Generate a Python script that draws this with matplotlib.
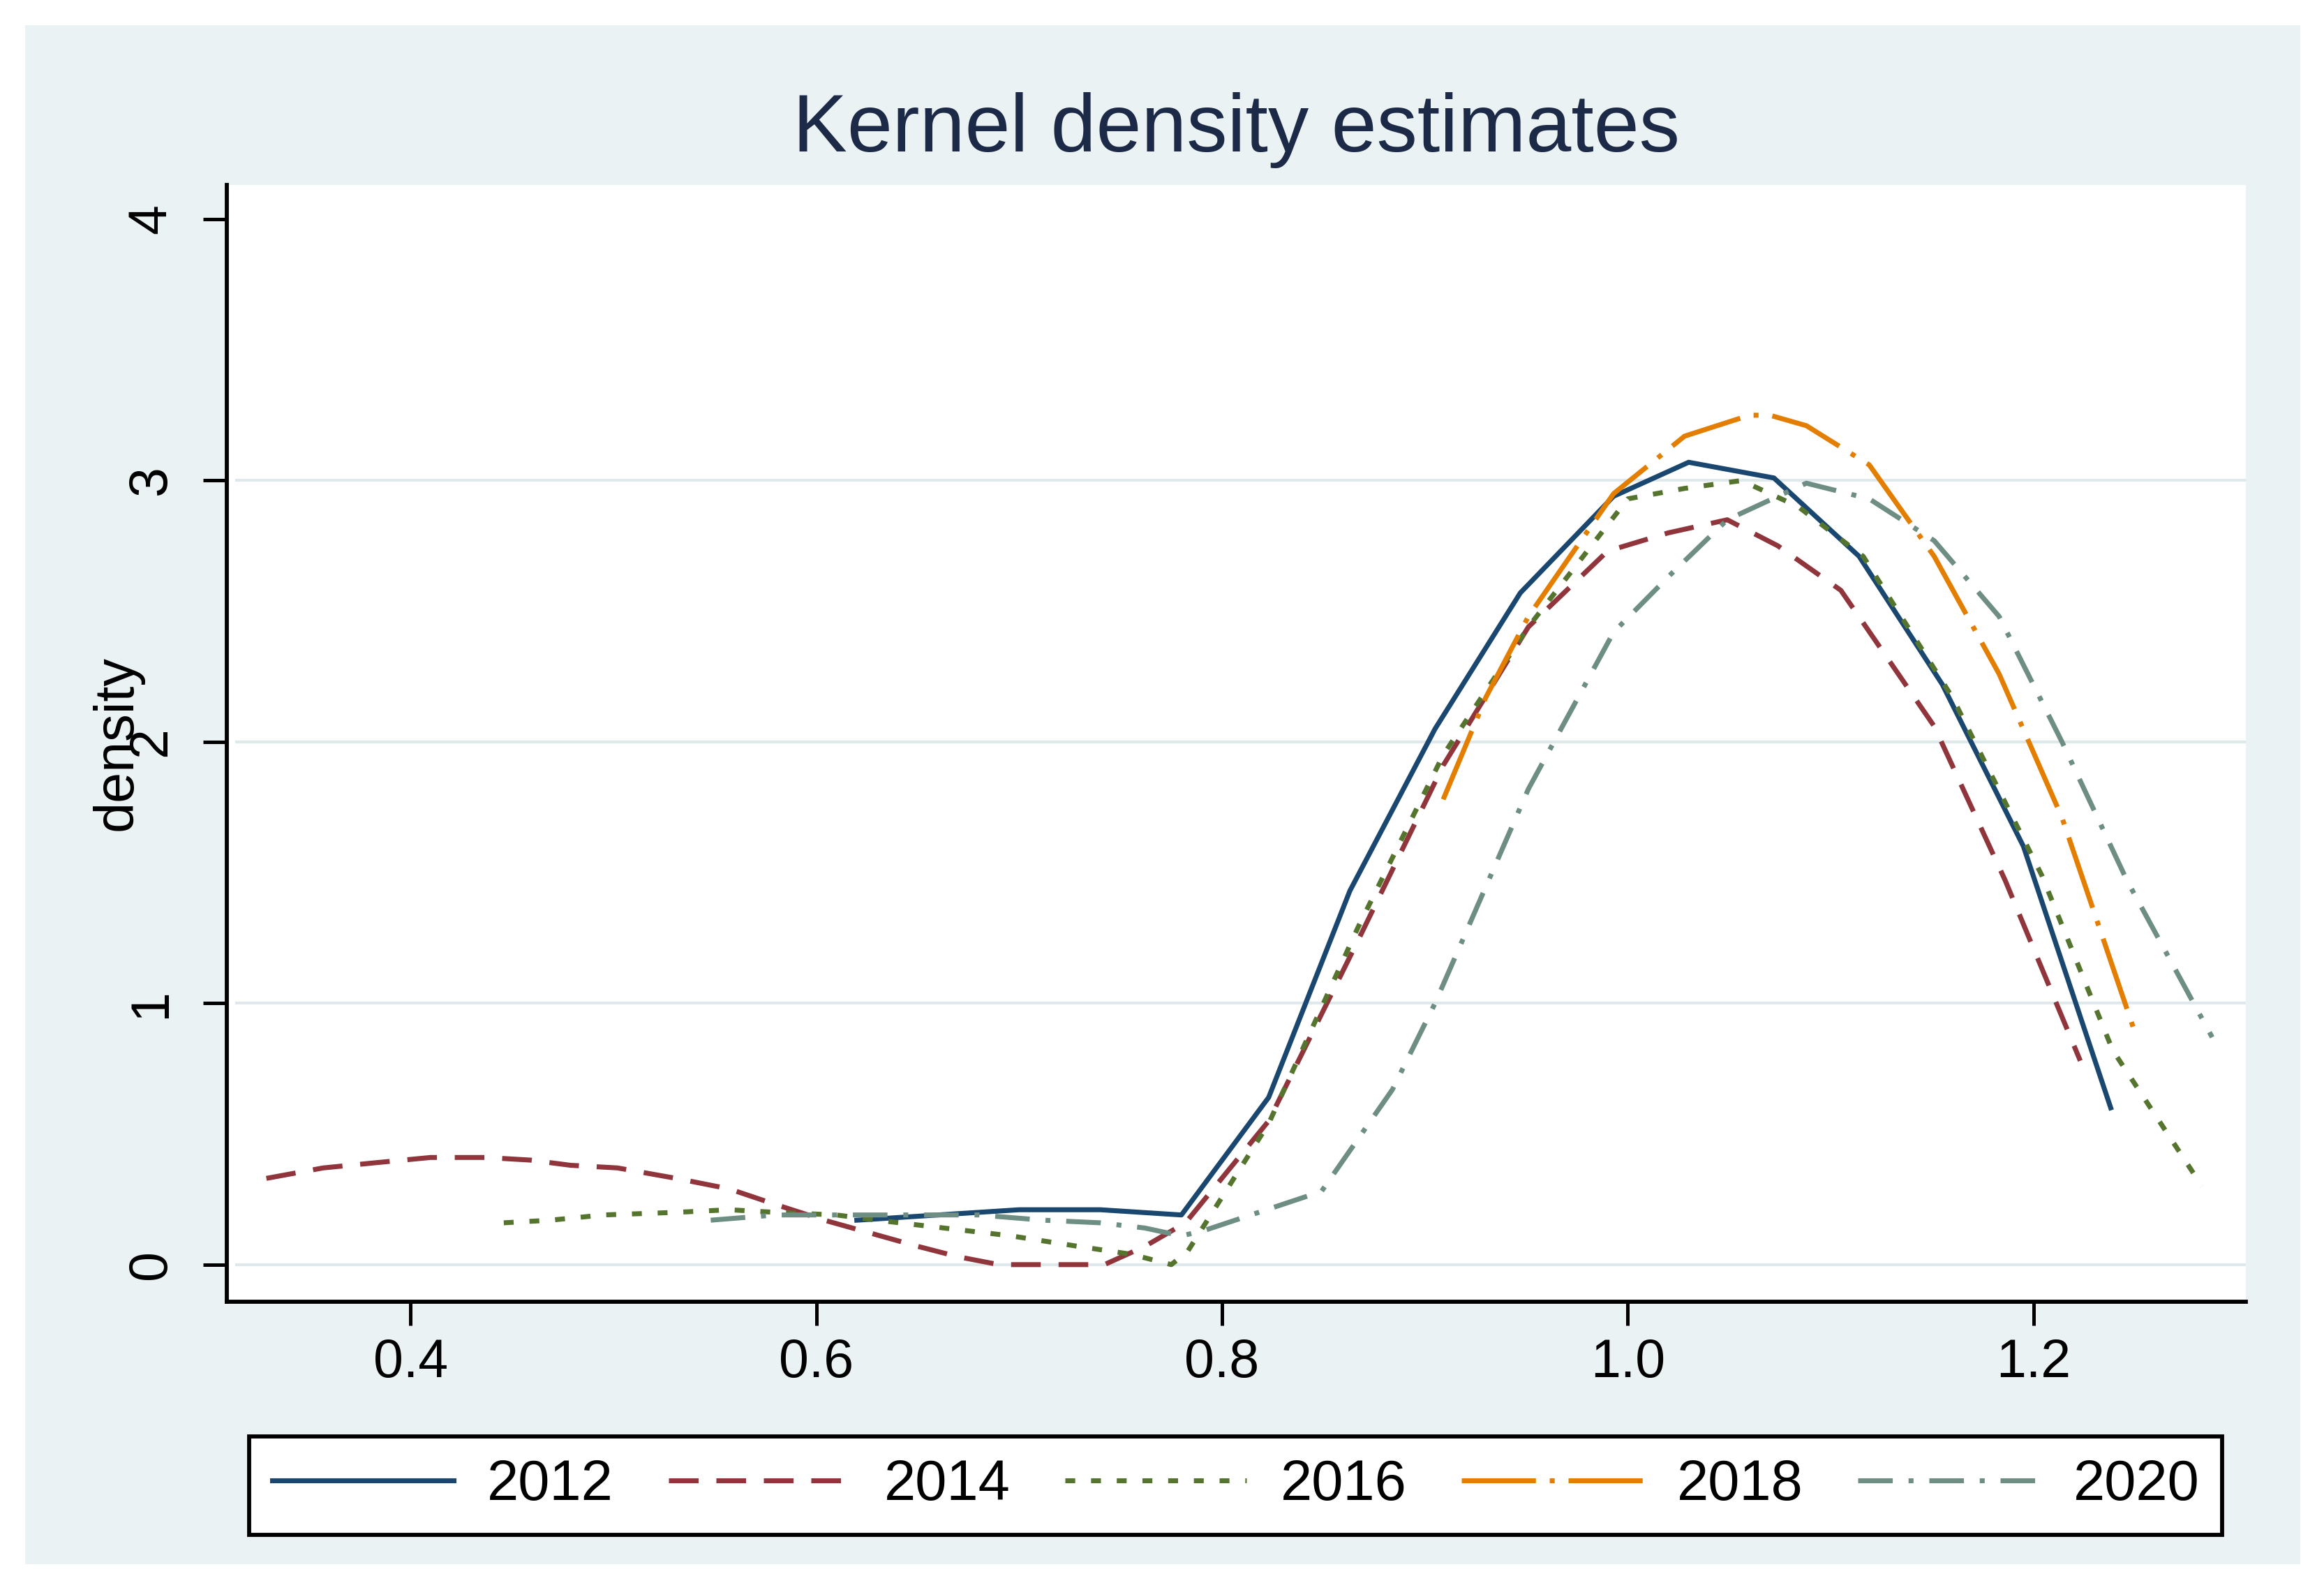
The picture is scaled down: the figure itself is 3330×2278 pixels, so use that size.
import matplotlib
matplotlib.use("Agg")
import matplotlib.pyplot as plt
from matplotlib.patches import Rectangle

plt.rcParams['font.family'] = ['Liberation Sans', 'DejaVu Sans']

# ---- data ----
years = ["2012", "2014", "2016", "2018", "2020"]

x2012 = [0.62, 0.66, 0.70, 0.74, 0.78, 0.823, 0.863, 0.905, 0.947, 0.993, 1.030,
         1.072, 1.114, 1.155, 1.195, 1.238]
y2012 = [0.17, 0.19, 0.21, 0.21, 0.19, 0.64, 1.43, 2.05, 2.57, 2.94, 3.07,
         3.01, 2.71, 2.22, 1.60, 0.60]

x2014 = [0.329, 0.357, 0.383, 0.410, 0.437, 0.459, 0.479, 0.502, 0.531, 0.557,
         0.580, 0.604, 0.627, 0.650, 0.670, 0.690, 0.742, 0.762, 0.782, 0.823,
         0.867, 0.909, 0.951, 0.990, 1.020, 1.049, 1.074, 1.105, 1.151, 1.186, 1.223]
y2014 = [0.33, 0.37, 0.39, 0.41, 0.41, 0.40, 0.38, 0.37, 0.33, 0.29,
         0.23, 0.17, 0.12, 0.07, 0.03, 0.00, 0.00, 0.07, 0.16, 0.55,
         1.24, 1.91, 2.44, 2.73, 2.80, 2.85, 2.75, 2.58, 2.06, 1.47, 0.78]

x2016 = [0.446, 0.469, 0.495, 0.531, 0.557, 0.580, 0.610, 0.630, 0.663, 0.696,
         0.729, 0.755, 0.775, 0.783, 0.823, 0.867, 0.909, 0.951, 1.000, 1.028,
         1.056, 1.084, 1.116, 1.160, 1.204, 1.239, 1.283]
y2016 = [0.16, 0.17, 0.19, 0.20, 0.21, 0.20, 0.19, 0.17, 0.14, 0.11,
         0.07, 0.04, 0.00, 0.05, 0.54, 1.29, 1.95, 2.44, 2.93, 2.97,
         3.00, 2.90, 2.71, 2.17, 1.49, 0.82, 0.30]

x2018 = [0.909, 0.930, 0.951, 0.993, 1.028, 1.060, 1.070, 1.088, 1.119, 1.151,
         1.183, 1.214, 1.249]
y2018 = [1.78, 2.17, 2.48, 2.95, 3.17, 3.25, 3.25, 3.21, 3.06, 2.71,
         2.26, 1.71, 0.91]

x2020 = [0.548, 0.580, 0.630, 0.680, 0.712, 0.740, 0.762, 0.780, 0.791, 0.849,
         0.884, 0.905, 0.951, 0.993, 1.021, 1.049, 1.088, 1.119, 1.151, 1.183,
         1.214, 1.246, 1.288]
y2020 = [0.17, 0.19, 0.19, 0.19, 0.17, 0.16, 0.14, 0.11, 0.13, 0.28,
         0.67, 1.00, 1.82, 2.42, 2.64, 2.85, 2.99, 2.93, 2.77, 2.48,
         2.00, 1.47, 0.87]

xs = [x2012, x2014, x2016, x2018, x2020]
ys = [y2012, y2014, y2016, y2018, y2020]

xticks = [0.4, 0.6, 0.8, 1.0, 1.2]
xticklabels = ["0.4", "0.6", "0.8", "1.0", "1.2"]
yticks = [0, 1, 2, 3, 4]
yticklabels = ["0", "1", "2", "3", "4"]

colors = ["#1a476f", "#90353b", "#55752f", "#e37e00", "#6e8e84"]
dashes = [None, (6, 3.6), (2.0, 3.2), (15, 2.8, 1, 2.8), (7, 3.2, 1, 3.2)]

W, H = 3330, 2278
fig = plt.figure(figsize=(W / 300, H / 300), dpi=300)
fig.patch.set_facecolor("white")
bg = Rectangle((36 / W, 1 - 2241 / H), (3296 - 36) / W, (2241 - 36) / H,
               transform=fig.transFigure, facecolor="#eaf2f3",
               edgecolor="none", zorder=-10)
fig.add_artist(bg)

ax = fig.add_axes([325 / W, 1 - 1865 / H, (3218 - 325) / W, (1865 - 265) / H])
ax.set_zorder(1)
ax.set_facecolor("white")
ax.set_xlim(0.3095, 1.3046)
ax.set_ylim(-0.142, 4.131)

for g in [0, 1, 2, 3]:
    ax.axhline(g, color="#dfe8eb", lw=1.0, zorder=1, xmin=0.005)

for x, y, c, d, lab in zip(xs, ys, colors, dashes, years):
    if d is None:
        ax.plot(x, y, color=c, lw=1.7, label=lab, zorder=3)
    else:
        ax.plot(x, y, color=c, lw=1.7, dashes=d, label=lab, zorder=3)

for s in ["top", "right"]:
    ax.spines[s].set_visible(False)
for s in ["left", "bottom"]:
    ax.spines[s].set_linewidth(1.4)
    ax.spines[s].set_color("black")

ax.set_xticks(xticks)
ax.set_xticklabels(xticklabels, fontsize=18.5)
ax.set_yticks(yticks)
ax.set_yticklabels(yticklabels, fontsize=18.5)
ax.tick_params(axis="x", length=8.2, width=1.2, pad=4, colors="black")
ax.tick_params(axis="y", length=8.2, width=1.2, pad=9, colors="black")
for t in ax.get_yticklabels():
    t.set_rotation(90)
    t.set_va("center")
    t.set_ha("right")

ax.set_ylabel("density", fontsize=19, va="center")
ax.yaxis.set_label_coords((168 - 325) / (3218 - 325), 0.5)

fig.text(1771 / W, 1 - 217 / H, "Kernel density estimates", fontsize=28,
         color="#1c2a48", ha="center", va="baseline")

leg = ax.legend(loc="center", bbox_to_anchor=(357 / W, 1 - 2203 / H, (3184 - 357) / W, 150 / H),
                bbox_transform=fig.transFigure, mode="expand", ncol=5, fontsize=19.5,
                handlelength=3.2, handletextpad=0.6, borderpad=0.4, borderaxespad=0,
                fancybox=False, framealpha=1, edgecolor="black", facecolor="white")
leg.get_frame().set_linewidth(1.4)

fig.savefig("out.png", dpi=300, facecolor="white")
